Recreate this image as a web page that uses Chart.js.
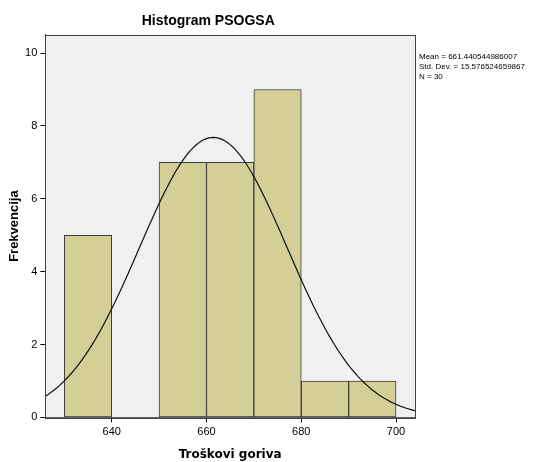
<!DOCTYPE html>
<html>
<head>
<meta charset="utf-8">
<script src="https://cdn.jsdelivr.net/npm/chart.js@4.4.1/dist/chart.umd.min.js"></script>
<style>
  html, body { margin: 0; padding: 0; background: #fff; }
  #wrap { width: 551px; height: 462px; }
</style>
</head>
<body>
<div id="wrap"><canvas id="c" width="551" height="462"></canvas></div>
<script>
// histogram bins (lower edge) and frequencies
const binStarts = [630, 640, 650, 660, 670, 680, 690];
const binWidth = 10;
const counts = [5, 0, 7, 7, 9, 1, 1];

// summary stats shown at the right of the plot
const mean = 661.440544986007;
const stdDev = 15.576524659867;
const n = 30;

const xTicks = [640, 660, 680, 700];
const yTicks = [0, 2, 4, 6, 8, 10];

// normal curve scaled to counts (N * bin width * pdf)
const curve = [];
for (let x = 626; x <= 704; x += 0.5) {
    const z = (x - mean) / stdDev;
    curve.push({ x: x, y: n * binWidth * Math.exp(-0.5 * z * z) / (stdDev * Math.sqrt(2 * Math.PI)) });
}

const bars = binStarts.map((b, i) => ({ x: b + binWidth / 2, y: counts[i] === 0 ? null : counts[i] }));

// light grey plot background + frame
const plotFrame = {
    id: 'plotFrame',
    beforeDatasetsDraw(chart) {
        const { ctx, chartArea: a } = chart;
        ctx.save();
        ctx.fillStyle = '#f0f0f0';
        ctx.fillRect(a.left, a.top, a.right - a.left, a.bottom - a.top);
        ctx.restore();
    },
    afterDatasetsDraw(chart) {
        const { ctx, chartArea: a } = chart;
        ctx.save();
        ctx.strokeStyle = '#444';
        ctx.lineWidth = 1;
        ctx.strokeRect(Math.round(a.left) + 0.5, Math.round(a.top) + 0.5,
            Math.round(a.right - a.left), Math.round(a.bottom - a.top));
        ctx.restore();
    }
};

// Mean / Std. Dev. / N text next to the plot
const statsText = {
    id: 'statsText',
    afterDraw(chart) {
        const { ctx, chartArea: a } = chart;
        ctx.save();
        ctx.font = '8px "Liberation Sans", Arial, sans-serif';
        ctx.fillStyle = '#000';
        ctx.textBaseline = 'middle';
        const lines = ['Mean = ' + mean, 'Std. Dev. = ' + stdDev, 'N = ' + n];
        lines.forEach((t, i) => ctx.fillText(t, a.right + 4, 57 + i * 10));
        ctx.restore();
    }
};

new Chart(document.getElementById('c'), {
    type: 'bar',
    data: {
        datasets: [
            {
                type: 'line',
                data: curve,
                borderColor: '#111',
                borderWidth: 1.2,
                pointRadius: 0,
                tension: 0,
                order: 0
            },
            {
                type: 'bar',
                data: bars,
                backgroundColor: '#d3cf97',
                borderColor: '#3c3c3c',
                borderWidth: 1,
                borderSkipped: false,
                barPercentage: 1,
                categoryPercentage: 1,
                order: 1
            }
        ]
    },
    options: {
        responsive: false,
        animation: false,
        layout: { padding: { left: 1.5, right: 136, top: 0, bottom: 0 } },
        plugins: {
            legend: { display: false },
            tooltip: { enabled: false },
            title: {
                display: true,
                text: 'Histogram PSOGSA',
                color: '#000',
                font: { family: '"Liberation Sans", Arial, sans-serif', size: 14, weight: 'bold' },
                padding: { top: 13, bottom: 5 }
            }
        },
        scales: {
            x: {
                type: 'linear',
                offset: false,
                min: 626,
                max: 704,
                afterBuildTicks: s => { s.ticks = xTicks.map(v => ({ value: v })); },
                grid: { offset: false, drawOnChartArea: false, drawTicks: true, tickLength: 5, color: '#000' },
                border: { display: true, color: '#000' },
                ticks: { color: '#000', padding: 2.5, maxRotation: 0,
                    font: { family: '"Liberation Sans", Arial, sans-serif', size: 11 } },
                title: {
                    display: true,
                    text: 'Troškovi goriva',
                    color: '#000',
                    font: { family: '"DejaVu Sans", Verdana, sans-serif', size: 12, weight: 'bold' },
                    padding: { top: 7, bottom: 0 }
                }
            },
            y: {
                min: 0,
                max: 10.5,
                afterBuildTicks: s => { s.ticks = yTicks.map(v => ({ value: v })); },
                grid: { drawOnChartArea: false, drawTicks: true, tickLength: 5, color: '#000' },
                border: { display: true, color: '#000' },
                ticks: { color: '#000', padding: 3,
                    font: { family: '"Liberation Sans", Arial, sans-serif', size: 11 } },
                title: {
                    display: true,
                    text: 'Frekvencija',
                    color: '#000',
                    font: { family: '"Liberation Sans", Arial, sans-serif', size: 13, weight: 'bold' },
                    padding: { top: 5, bottom: 0 }
                }
            }
        }
    },
    plugins: [plotFrame, statsText]
});
</script>
</body>
</html>
